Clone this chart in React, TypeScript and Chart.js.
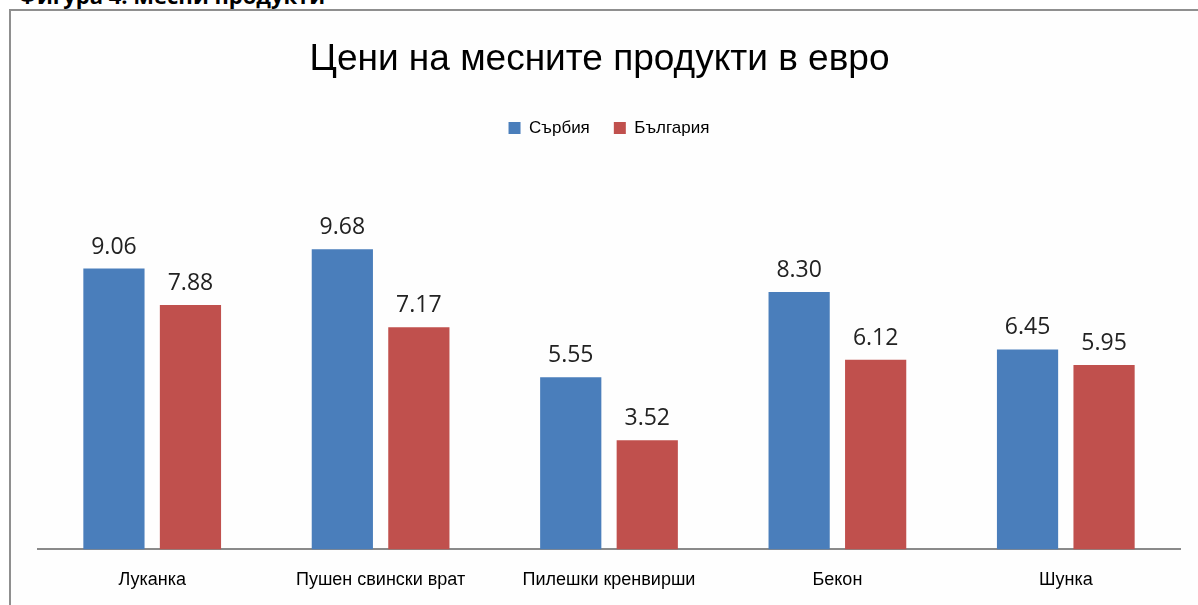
import React, { useEffect, useRef } from "react";
import { Chart, registerables } from "chart.js";

Chart.register(...registerables);

const categories = ["Луканка", "Пушен свински врат", "Пилешки кренвирши", "Бекон", "Шунка"];
const serbia = [9.06, 9.68, 5.55, 8.3, 6.45];
const bulgaria = [7.88, 7.17, 3.52, 6.12, 5.95];
const seriesNames = ["Сърбия", "България"];
const chartTitle = "Цени на месните продукти в евро";
const heading = "Фигура 4. Месни продукти";

const valueLabels = {
  id: "valueLabels",
  afterDatasetsDraw(chart: any) {
    const ctx = chart.ctx;
    ctx.save();
    ctx.font = "23px 'Open Sans'";
    ctx.fillStyle = "#222";
    ctx.textAlign = "center";
    ctx.textBaseline = "middle";
    chart.data.datasets.forEach((ds: any, i: number) => {
      const meta = chart.getDatasetMeta(i);
      meta.data.forEach((bar: any, j: number) => {
        ctx.fillText(Number(ds.data[j]).toFixed(2), bar.x, bar.y - 21.5);
      });
    });
    ctx.restore();
  },
};

const titleDraw = {
  id: "titleDraw",
  afterDraw(chart: any) {
    const ctx = chart.ctx;
    const t = chart.titleBlock;
    ctx.save();
    ctx.font = "37px 'Liberation Sans'";
    ctx.fillStyle = "#000";
    ctx.textAlign = "center";
    ctx.textBaseline = "middle";
    ctx.fillText(chartTitle, 599.5, t.top + t.options.padding.top + 22.2);
    ctx.restore();
  },
};

export default function App() {
  const ref = useRef<HTMLCanvasElement>(null);
  useEffect(() => {
    const chart = new Chart(ref.current!, {
      type: "bar",
      data: {
        labels: categories,
        datasets: [
          { label: seriesNames[0], data: serbia, backgroundColor: "#4a7ebb", borderWidth: 0 },
          { label: seriesNames[1], data: bulgaria, backgroundColor: "#c0504d", borderWidth: 0 },
        ],
      },
      options: {
        animation: false,
        responsive: false,
        maintainAspectRatio: false,
        layout: { padding: { left: 38, right: 18, top: 0, bottom: 18 } },
        datasets: { bar: { categoryPercentage: 0.67, barPercentage: 0.8 } },
        plugins: {
          tooltip: { enabled: false },
          title: {
            display: true,
            text: chartTitle,
            color: "rgba(0,0,0,0)",
            font: { family: "'Liberation Sans'", size: 37, weight: "normal" },
            padding: { top: 38, bottom: 13 },
          },
          legend: {
            display: true,
            labels: {
              color: "#000",
              font: { family: "'Liberation Sans'", size: 17 },
              boxWidth: 12,
              boxHeight: 12,
              padding: 24,
            },
          },
        },
        scales: {
          y: { display: false, min: 0, max: 13.0 },
          x: {
            grid: { display: false, drawTicks: false },
            border: { display: true, color: "#8a8a8a", width: 2 },
            ticks: {
              color: "#000",
              font: { family: "'Liberation Sans'", size: 18 },
              padding: 20,
              maxRotation: 0,
              autoSkip: false,
            },
          },
        },
      },
      plugins: [valueLabels, titleDraw],
    });
    return () => chart.destroy();
  }, []);

  return (
    <div style={{ position: "fixed", left: 0, top: 0, width: 1198, height: 605, overflow: "hidden", background: "#fff" }}>
      <div
        style={{
          position: "absolute",
          left: 18,
          top: -20,
          fontFamily: "'Open Sans', sans-serif",
          fontWeight: "bold",
          fontSize: 22,
          color: "#000",
          whiteSpace: "nowrap",
        }}
      >
        {heading}
      </div>
      <div
        style={{
          position: "absolute",
          left: 9,
          top: 9,
          width: 1300,
          height: 700,
          border: "2px solid #8f8f8f",
          background: "#fefefe",
        }}
      />
      <canvas ref={ref} width={1198} height={629} style={{ position: "absolute", left: 0, top: 0 }} />
    </div>
  );
}
